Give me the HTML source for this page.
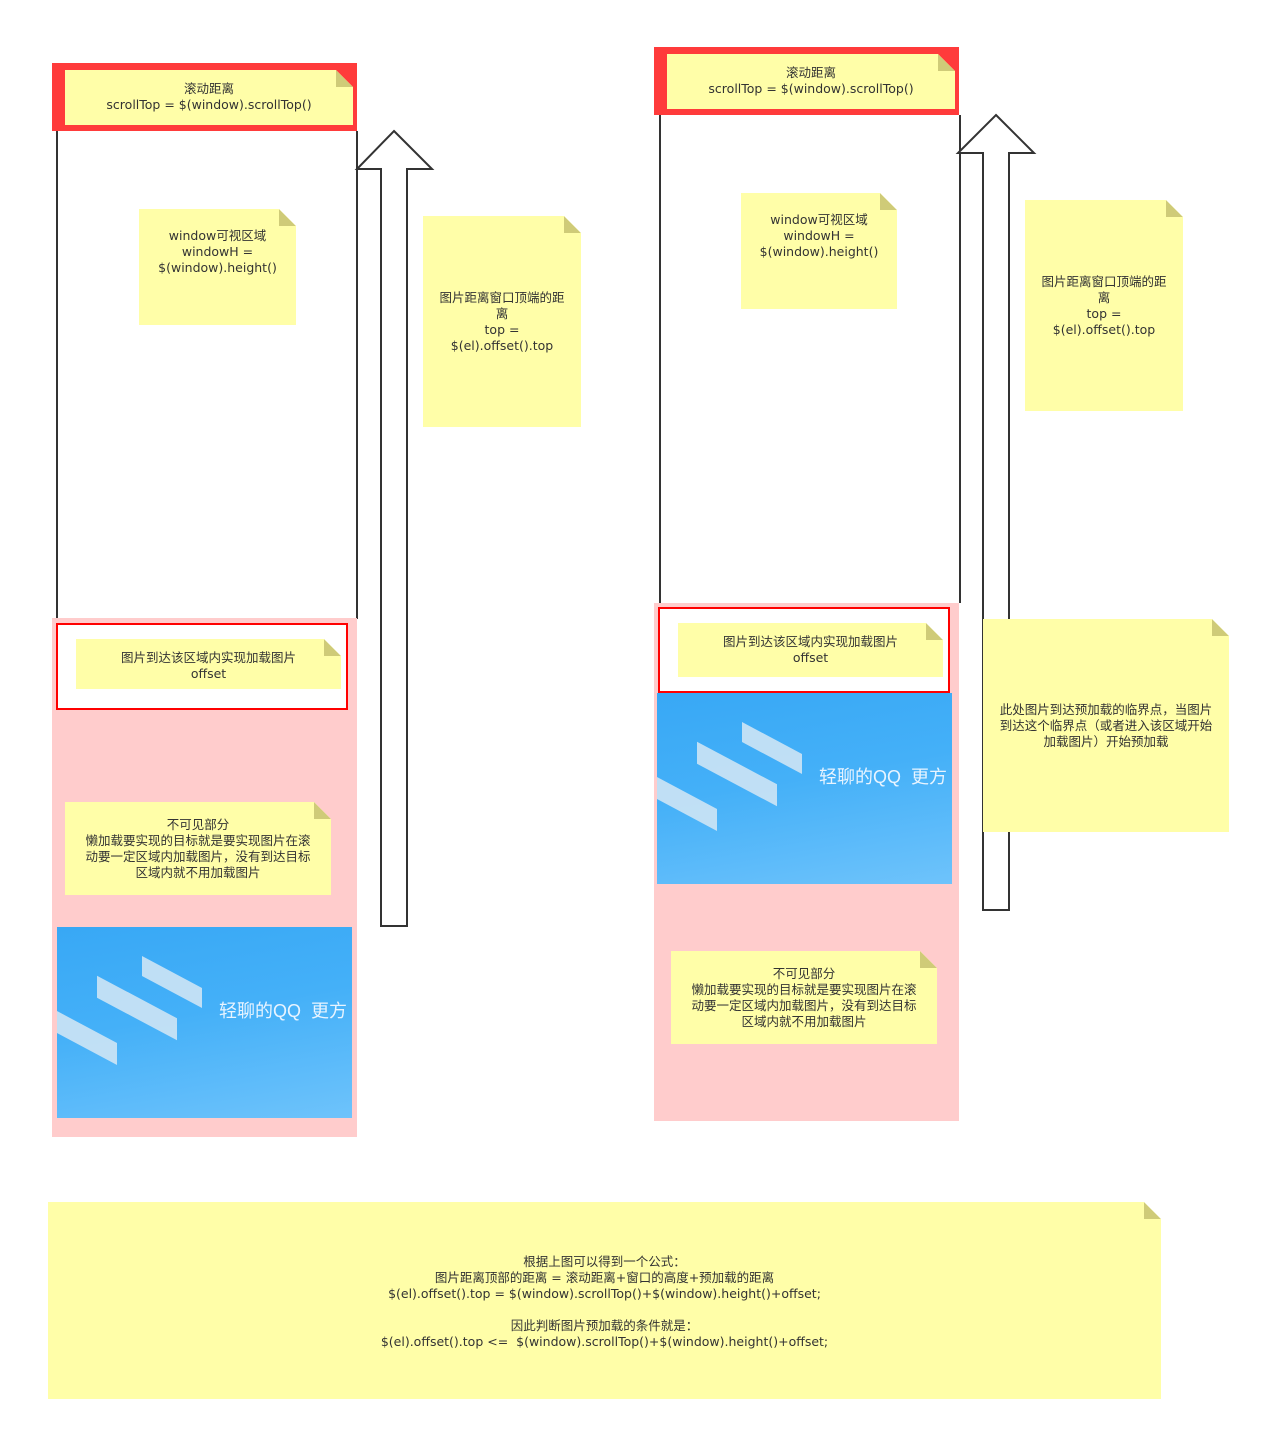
<!DOCTYPE html>
<html><head><meta charset="utf-8"><style>
body{margin:0;width:1261px;height:1432px;background:#fff;position:relative;overflow:hidden;font-family:"DejaVu Sans","Noto Sans CJK SC",sans-serif;}
div{position:absolute;box-sizing:border-box;}
.n{background:#fffea8;color:#333;font-size:12.5px;line-height:16px;text-align:center;white-space:nowrap;clip-path:polygon(0 0,calc(100% - 17px) 0,100% 17px,100% 100%,0 100%);}
.n::after{content:"";position:absolute;right:0;top:0;width:17px;height:17px;background:#cfcb78;clip-path:polygon(0 0,0 100%,100% 100%);}
.red{background:#ff3b3b;}
.pink{background:#ffcccc;}
.ro{border:2px solid #f00;background:#fff;}
.vl{width:2px;background:#333;}
.img{background:linear-gradient(170deg,#38a8f5 0%,#44b0f8 45%,#6ec3fb 100%);overflow:hidden;}
.img span{position:absolute;color:#e8f4ff;font-size:18px;white-space:nowrap;font-family:"Liberation Sans","Noto Sans CJK SC",sans-serif;}
.blk{position:absolute;background:#d6e8f4;transform:skewY(28deg);opacity:.85;}
</style></head><body>

<!-- left -->
<div class="red" style="left:52px;top:63px;width:305px;height:68px"></div>
<div class="n" style="left:65px;top:70px;width:288px;height:55px;padding-top:11px">滚动距离<br>scrollTop = $(window).scrollTop()</div>
<div class="vl" style="left:56px;top:131px;height:488px"></div>
<div class="vl" style="left:356px;top:131px;height:488px"></div>
<div class="pink" style="left:52px;top:618px;width:305px;height:519px"></div>
<div class="ro" style="left:56px;top:623px;width:292px;height:87px"></div>
<div class="n" style="left:76px;top:639px;width:265px;height:50px;padding-top:11px">图片到达该区域内实现加载图片<br>offset</div>
<div class="n" style="left:65px;top:802px;width:266px;height:93px;padding-top:15px">不可见部分<br>懒加载要实现的目标就是要实现图片在滚<br>动要一定区域内加载图片，没有到达目标<br>区域内就不用加载图片</div>
<div class="img" style="left:57px;top:927px;width:295px;height:191px">
<div class="blk" style="left:40px;top:70px;width:80px;height:22px"></div>
<div class="blk" style="left:85px;top:45px;width:60px;height:20px"></div>
<div class="blk" style="left:0px;top:100px;width:60px;height:22px"></div>
<span style="left:162px;top:70px">轻聊的QQ&nbsp;&nbsp;更方</span></div>
<div class="n" style="left:139px;top:209px;width:157px;height:116px;padding-top:19px">window可视区域<br>windowH =<br>$(window).height()</div>
<div class="n" style="left:423px;top:216px;width:158px;height:211px;padding-top:74px">图片距离窗口顶端的距<br>离<br>top =<br>$(el).offset().top</div>

<!-- right -->
<div class="red" style="left:654px;top:47px;width:305px;height:68px"></div>
<div class="n" style="left:667px;top:54px;width:288px;height:55px;padding-top:11px">滚动距离<br>scrollTop = $(window).scrollTop()</div>
<div class="vl" style="left:659px;top:115px;height:488px"></div>
<div class="vl" style="left:959px;top:115px;height:488px"></div>
<div class="pink" style="left:654px;top:603px;width:305px;height:518px"></div>
<div class="ro" style="left:658px;top:607px;width:292px;height:86px"></div>
<div class="n" style="left:678px;top:623px;width:265px;height:54px;padding-top:11px">图片到达该区域内实现加载图片<br>offset</div>
<div class="img" style="left:657px;top:693px;width:295px;height:191px">
<div class="blk" style="left:40px;top:70px;width:80px;height:22px"></div>
<div class="blk" style="left:85px;top:45px;width:60px;height:20px"></div>
<div class="blk" style="left:0px;top:100px;width:60px;height:22px"></div>
<span style="left:162px;top:70px">轻聊的QQ&nbsp;&nbsp;更方</span></div>
<div class="n" style="left:671px;top:951px;width:266px;height:93px;padding-top:15px">不可见部分<br>懒加载要实现的目标就是要实现图片在滚<br>动要一定区域内加载图片，没有到达目标<br>区域内就不用加载图片</div>
<div class="n" style="left:741px;top:193px;width:156px;height:116px;padding-top:19px">window可视区域<br>windowH =<br>$(window).height()</div>

<svg style="position:absolute;left:0;top:0" width="1261" height="1432">
<polygon points="394,131 432,169 407,169 407,926 381,926 381,169 357,169" fill="#fff" stroke="#333" stroke-width="2"/>
<polygon points="996,115 1034,153 1009,153 1009,910 983,910 983,153 958,153" fill="#fff" stroke="#333" stroke-width="2"/>
</svg>

<div class="n" style="left:1025px;top:200px;width:158px;height:211px;padding-top:74px">图片距离窗口顶端的距<br>离<br>top =<br>$(el).offset().top</div>
<div class="n" style="left:983px;top:619px;width:246px;height:213px;padding-top:83px">此处图片到达预加载的临界点，当图片<br>到达这个临界点（或者进入该区域开始<br>加载图片）开始预加载</div>

<div class="n" style="left:48px;top:1202px;width:1113px;height:197px;padding-top:52px">根据上图可以得到一个公式：<br>图片距离顶部的距离 = 滚动距离+窗口的高度+预加载的距离<br>$(el).offset().top = $(window).scrollTop()+$(window).height()+offset;<br><br>因此判断图片预加载的条件就是：<br>$(el).offset().top &lt;=&nbsp; $(window).scrollTop()+$(window).height()+offset;</div>
</body></html>
